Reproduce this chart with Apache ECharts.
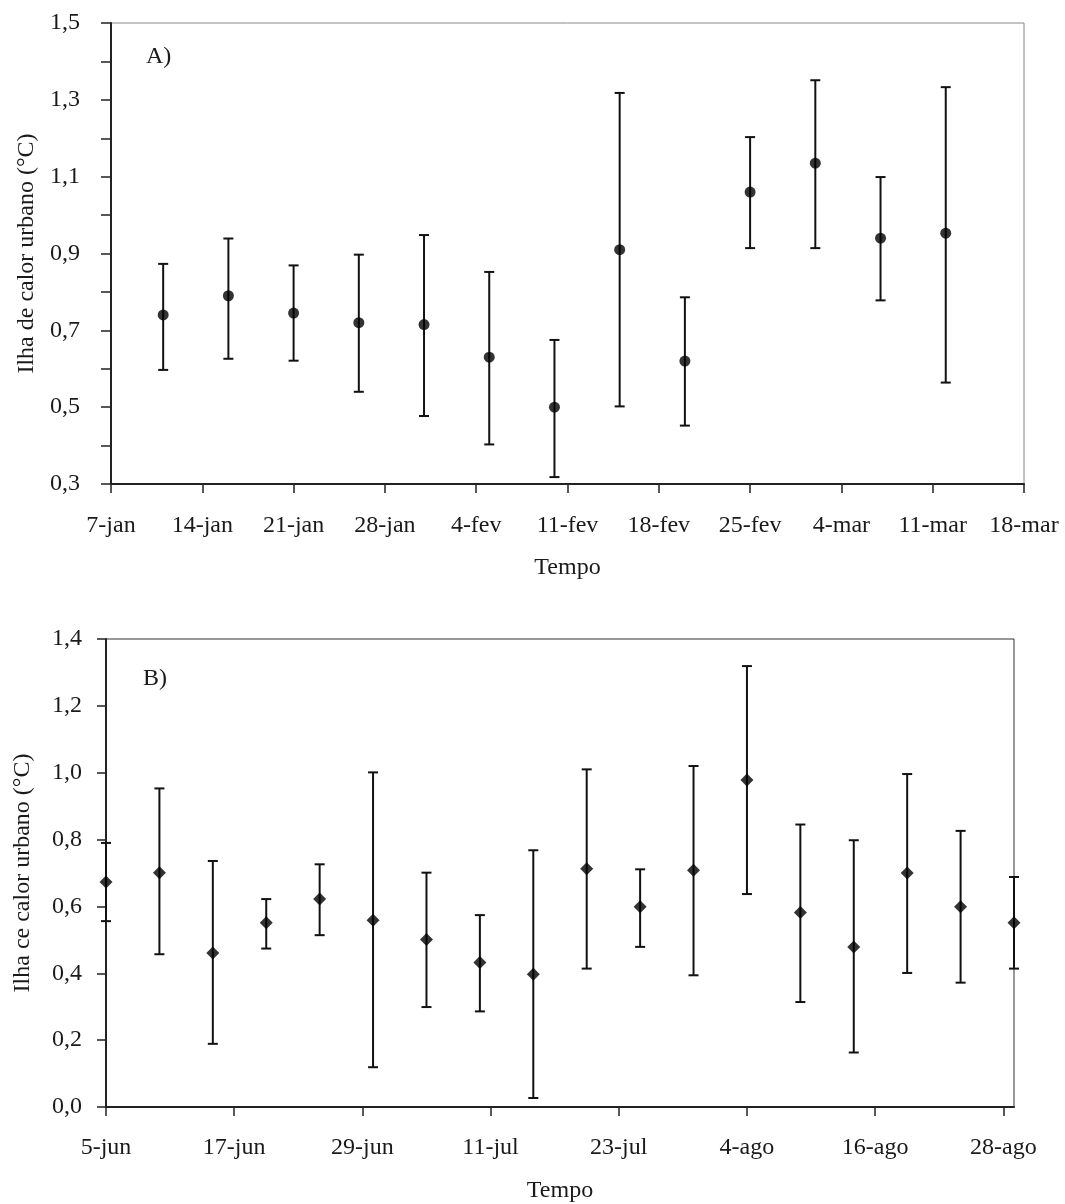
<!DOCTYPE html>
<html>
<head>
<meta charset="utf-8">
<script src="https://cdn.jsdelivr.net/npm/echarts@6/dist/echarts.min.js"></script>
<style>
html,body{margin:0;padding:0;background:#fff;}
#chart{width:1065px;height:1204px;}
</style>
</head>
<body>
<div id="chart"></div>
<script>
// ---- Panel A (Jan–Mar): x = days after 7-jan ----
const xTickLabelsA = ['7-jan','14-jan','21-jan','28-jan','4-fev','11-fev','18-fev','25-fev','4-mar','11-mar','18-mar'];
const xTickDaysA = [0,7,14,21,28,35,42,49,56,63,70];
const yTickLabelsA = ['0,3','0,5','0,7','0,9','1,1','1,3','1,5'];
const daysA  = [4, 9, 14, 19, 24, 29, 34, 39, 44, 49, 54, 59, 64];
const meanA  = [0.74, 0.79, 0.745, 0.72, 0.715, 0.63, 0.50, 0.91, 0.62, 1.06, 1.135, 0.94, 0.953];
const upperA = [0.873, 0.939, 0.869, 0.897, 0.948, 0.852, 0.675, 1.318, 0.786, 1.203, 1.351, 1.099, 1.333];
const lowerA = [0.597, 0.626, 0.621, 0.540, 0.477, 0.403, 0.318, 0.502, 0.452, 0.914, 0.914, 0.778, 0.564];

// ---- Panel B (Jun–Aug): x = days after 5-jun ----
const xTickLabelsB = ['5-jun','17-jun','29-jun','11-jul','23-jul','4-ago','16-ago','28-ago'];
const xTickDaysB = [0,12,24,36,48,60,72,84];
const yTickLabelsB = ['0,0','0,2','0,4','0,6','0,8','1,0','1,2','1,4'];
const daysB  = [0, 5, 10, 15, 20, 25, 30, 35, 40, 45, 50, 55, 60, 65, 70, 75, 80, 85];
const meanB  = [0.673, 0.701, 0.461, 0.551, 0.622, 0.559, 0.501, 0.432, 0.397, 0.713, 0.599, 0.708, 0.978, 0.582, 0.479, 0.700, 0.599, 0.551];
const upperB = [0.79, 0.953, 0.736, 0.622, 0.726, 1.001, 0.701, 0.574, 0.768, 1.010, 0.711, 1.020, 1.319, 0.845, 0.798, 0.996, 0.826, 0.688];
const lowerB = [0.556, 0.457, 0.189, 0.474, 0.514, 0.119, 0.299, 0.286, 0.027, 0.414, 0.479, 0.394, 0.637, 0.314, 0.163, 0.401, 0.372, 0.414];

const FONT = '"Liberation Serif","Times New Roman",serif';
const TXT = '#1a1a1a';

function errRender(params, api) {
  const x = api.value(0), lo = api.value(1), hi = api.value(2);
  const a = api.coord([x, hi]);
  const b = api.coord([x, lo]);
  const w = 5;
  const st = {stroke: '#111', lineWidth: 2};
  return {type: 'group', children: [
    {type: 'line', shape: {x1: a[0], y1: a[1], x2: b[0], y2: b[1]}, style: st},
    {type: 'line', shape: {x1: a[0] - w, y1: a[1], x2: a[0] + w, y2: a[1]}, style: st},
    {type: 'line', shape: {x1: b[0] - w, y1: b[1], x2: b[0] + w, y2: b[1]}, style: st}
  ]};
}

function labelFrom(list) {
  return function (v) {
    const s = (Math.round(v * 10) / 10).toFixed(1).replace('.', ',');
    return list.indexOf(s) >= 0 ? s : '';
  };
}

const chart = echarts.init(document.getElementById('chart'), null, {renderer: 'canvas'});
chart.setOption({
  backgroundColor: '#fff',
  animation: false,
  textStyle: {fontFamily: FONT},
  grid: [
    {left: 111, top: 23, right: 41, height: 461, show: true, borderColor: '#888', borderWidth: 1, backgroundColor: 'transparent'},
    {left: 106, top: 639, right: 51, height: 468, show: true, borderColor: '#333', borderWidth: 1, backgroundColor: 'transparent'}
  ],
  xAxis: [
    {
      gridIndex: 0, type: 'value', min: 0, max: 70, interval: 7,
      name: 'Tempo', nameLocation: 'middle', nameGap: 72,
      nameTextStyle: {fontFamily: FONT, fontSize: 24, color: TXT},
      axisLine: {show: true, lineStyle: {color: '#222', width: 2}},
      axisTick: {show: true, inside: false, length: 9, lineStyle: {color: '#222', width: 1.5}},
      axisLabel: {margin: 30, fontFamily: FONT, fontSize: 24, color: TXT,
        formatter: function (v) { const i = xTickDaysA.indexOf(Math.round(v)); return i >= 0 ? xTickLabelsA[i] : ''; }},
      splitLine: {show: false}
    },
    {
      gridIndex: 1, type: 'value', min: 0, max: 85, interval: 12,
      name: 'Tempo', nameLocation: 'middle', nameGap: 72,
      nameTextStyle: {fontFamily: FONT, fontSize: 24, color: TXT},
      axisLine: {show: true, lineStyle: {color: '#222', width: 2}},
      axisTick: {show: true, inside: false, length: 9, lineStyle: {color: '#222', width: 1.5}, customValues: xTickDaysB},
      axisLabel: {margin: 29, fontFamily: FONT, fontSize: 24, color: TXT, customValues: xTickDaysB,
        formatter: function (v) { const i = xTickDaysB.indexOf(Math.round(v)); return i >= 0 ? xTickLabelsB[i] : ''; }},
      splitLine: {show: false}
    }
  ],
  yAxis: [
    {
      gridIndex: 0, type: 'value', min: 0.3, max: 1.5, interval: 0.1,
      name: 'Ilha de calor urbano (°C)', nameLocation: 'middle', nameGap: 69, nameRotate: 90,
      nameTextStyle: {fontFamily: FONT, fontSize: 24, color: TXT},
      axisLine: {show: true, lineStyle: {color: '#222', width: 2}},
      axisTick: {show: true, inside: false, length: 10, lineStyle: {color: '#222', width: 1.5}},
      axisLabel: {margin: 31, fontFamily: FONT, fontSize: 24, color: TXT, formatter: labelFrom(yTickLabelsA)},
      splitLine: {show: false}
    },
    {
      gridIndex: 1, type: 'value', min: 0, max: 1.4, interval: 0.2,
      name: 'Ilha ce calor urbano (°C)', nameLocation: 'middle', nameGap: 71, nameRotate: 90,
      nameTextStyle: {fontFamily: FONT, fontSize: 24, color: TXT},
      axisLine: {show: true, lineStyle: {color: '#222', width: 2}},
      axisTick: {show: true, inside: false, length: 9, lineStyle: {color: '#222', width: 1.5}},
      axisLabel: {margin: 24, fontFamily: FONT, fontSize: 24, color: TXT, formatter: labelFrom(yTickLabelsB)},
      splitLine: {show: false}
    }
  ],
  graphic: [
    {type: 'text', left: 146, top: 45, style: {text: 'A)', font: '24px ' + FONT, fill: TXT}},
    {type: 'text', left: 143, top: 667, style: {text: 'B)', font: '24px ' + FONT, fill: TXT}}
  ],
  series: [
    {
      type: 'custom', xAxisIndex: 0, yAxisIndex: 0, renderItem: errRender,
      encode: {x: 0, y: [1, 2]}, clip: false, z: 3,
      data: daysA.map((d, i) => [d, lowerA[i], upperA[i]])
    },
    {
      type: 'scatter', xAxisIndex: 0, yAxisIndex: 0, symbol: 'circle', symbolSize: 11,
      itemStyle: {color: '#000'}, z: 4, clip: false,
      data: daysA.map((d, i) => [d, meanA[i]])
    },
    {
      type: 'custom', xAxisIndex: 1, yAxisIndex: 1, renderItem: errRender,
      encode: {x: 0, y: [1, 2]}, clip: false, z: 3,
      data: daysB.map((d, i) => [d, lowerB[i], upperB[i]])
    },
    {
      type: 'scatter', xAxisIndex: 1, yAxisIndex: 1, symbol: 'diamond', symbolSize: [13, 13],
      itemStyle: {color: '#000'}, z: 4, clip: false,
      data: daysB.map((d, i) => [d, meanB[i]])
    }
  ]
});
</script>
</body>
</html>
